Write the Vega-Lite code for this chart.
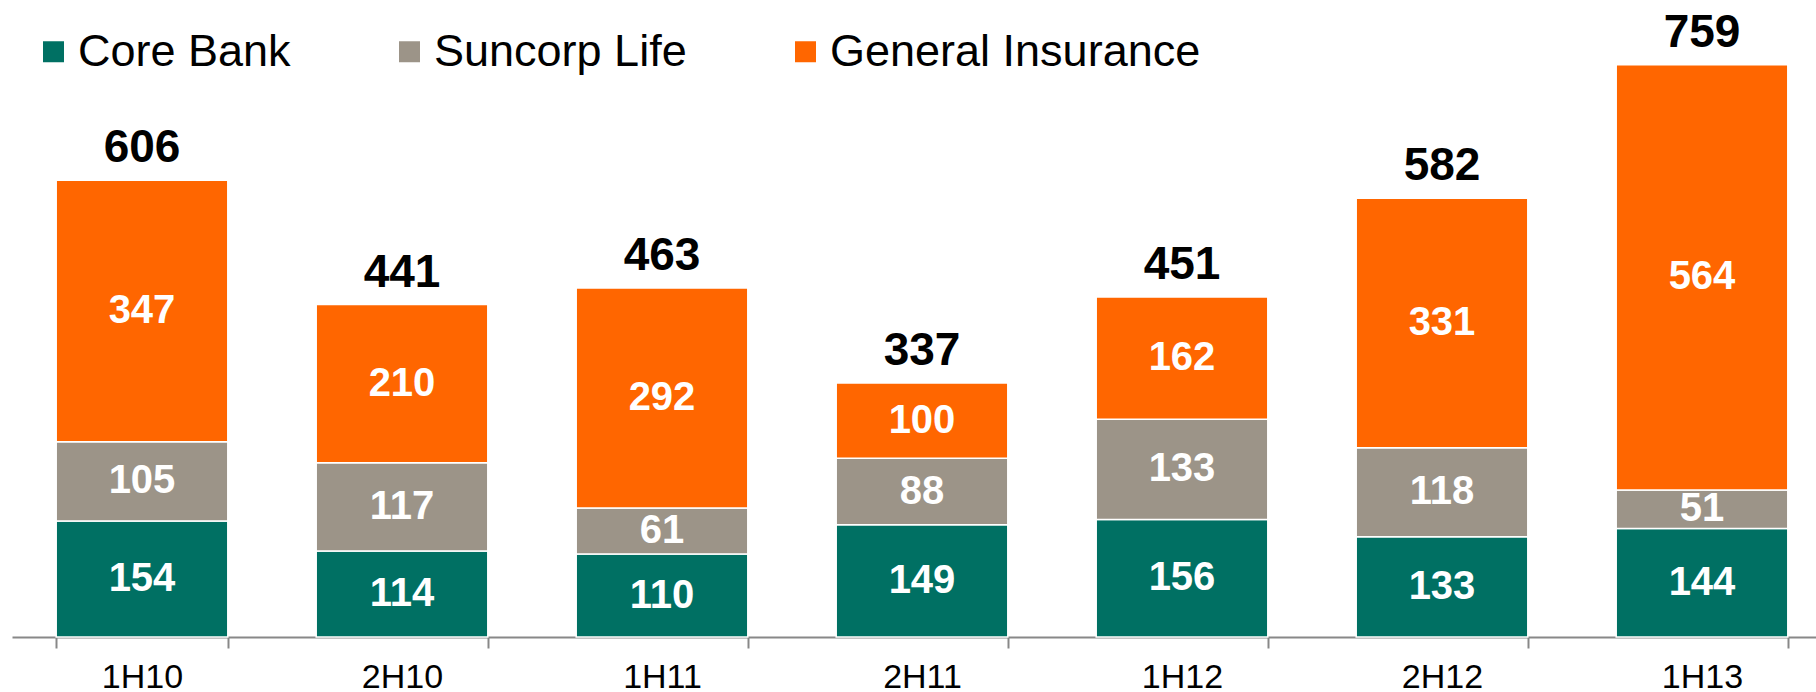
{
  "$schema": "https://vega.github.io/schema/vega-lite/v6.json",
  "width": 1804,
  "height": 637,
  "autosize": {"type": "none"},
  "padding": {"left": 12, "top": 0, "right": 0, "bottom": 55},
  "background": "white",
  "config": {
    "view": {"stroke": null},
    "font": "Liberation Sans",
    "legend": {
      "orient": "none",
      "legendX": 19,
      "legendY": 29,
      "direction": "horizontal",
      "padding": 0,
      "symbolType": "square",
      "symbolSize": 441,
      "symbolStrokeWidth": 0,
      "labelFontSize": 45,
      "labelFont": "Liberation Sans",
      "labelColor": "#000000",
      "labelOffset": 2,
      "labelLimit": 600,
      "columnPadding": 96,
      "title": null
    }
  },
  "data": {
    "values": [
      {"period": "1H10", "series": "Core Bank", "value": 154},
      {"period": "1H10", "series": "Suncorp Life", "value": 105},
      {"period": "1H10", "series": "General Insurance", "value": 347},
      {"period": "2H10", "series": "Core Bank", "value": 114},
      {"period": "2H10", "series": "Suncorp Life", "value": 117},
      {"period": "2H10", "series": "General Insurance", "value": 210},
      {"period": "1H11", "series": "Core Bank", "value": 110},
      {"period": "1H11", "series": "Suncorp Life", "value": 61},
      {"period": "1H11", "series": "General Insurance", "value": 292},
      {"period": "2H11", "series": "Core Bank", "value": 149},
      {"period": "2H11", "series": "Suncorp Life", "value": 88},
      {"period": "2H11", "series": "General Insurance", "value": 100},
      {"period": "1H12", "series": "Core Bank", "value": 156},
      {"period": "1H12", "series": "Suncorp Life", "value": 133},
      {"period": "1H12", "series": "General Insurance", "value": 162},
      {"period": "2H12", "series": "Core Bank", "value": 133},
      {"period": "2H12", "series": "Suncorp Life", "value": 118},
      {"period": "2H12", "series": "General Insurance", "value": 331},
      {"period": "1H13", "series": "Core Bank", "value": 144},
      {"period": "1H13", "series": "Suncorp Life", "value": 51},
      {"period": "1H13", "series": "General Insurance", "value": 564}
    ]
  },
  "transform": [
    {"calculate": "indexof(['Core Bank', 'Suncorp Life', 'General Insurance'], datum.series)", "as": "ord"},
    {"stack": "value", "groupby": ["period"], "sort": [{"field": "ord", "order": "ascending"}], "as": ["v0", "v1"]},
    {"calculate": "(datum.v0 + datum.v1) / 2", "as": "vmid"}
  ],
  "encoding": {
    "x": {
      "field": "period",
      "type": "nominal",
      "sort": null,
      "scale": {"range": [0, 1820], "paddingInner": 0.34, "paddingOuter": 0.17},
      "axis": {
        "title": null,
        "labelAngle": 0,
        "labelFontSize": 34,
        "labelFont": "Liberation Sans",
        "labelColor": "#000000",
        "labelPadding": 12,
        "domainColor": "#888888",
        "domainWidth": 2,
        "tickColor": "#888888",
        "tickWidth": 2,
        "tickSize": 11,
        "tickBand": "extent",
        "grid": false
      }
    }
  },
  "layer": [
    {
      "mark": {"type": "bar", "stroke": "white", "strokeWidth": 1.5},
      "encoding": {
        "y": {"field": "v0", "type": "quantitative", "scale": {"domain": [0, 845], "nice": false}, "axis": null},
        "y2": {"field": "v1"},
        "color": {
          "field": "series",
          "type": "nominal",
          "sort": ["Core Bank", "Suncorp Life", "General Insurance"],
          "scale": {"domain": ["Core Bank", "Suncorp Life", "General Insurance"], "range": ["#007063", "#9C9488", "#FF6600"]}
        }
      }
    },
    {
      "mark": {"type": "text", "color": "white", "fontWeight": "bold", "fontSize": 40, "baseline": "middle", "font": "Liberation Sans"},
      "encoding": {
        "y": {"field": "vmid", "type": "quantitative"},
        "text": {"field": "value", "type": "quantitative"}
      }
    },
    {
      "mark": {"type": "text", "color": "black", "fontWeight": "bold", "fontSize": 46, "baseline": "alphabetic", "dy": -18, "font": "Liberation Sans"},
      "encoding": {
        "y": {"aggregate": "max", "field": "v1", "type": "quantitative"},
        "text": {"aggregate": "max", "field": "v1", "type": "quantitative"}
      }
    }
  ]
}
